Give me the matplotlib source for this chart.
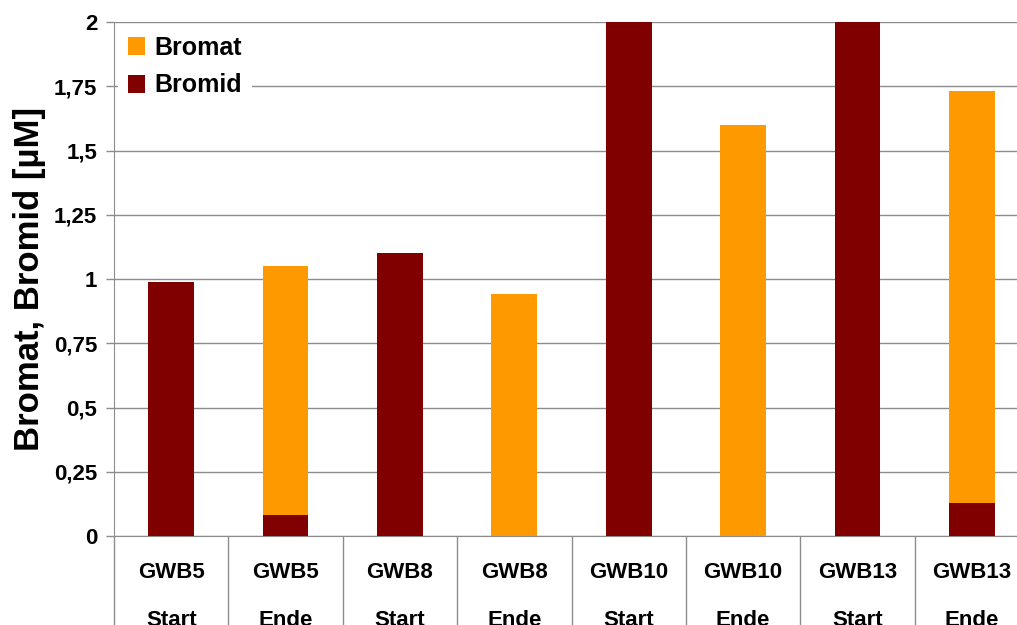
import matplotlib
matplotlib.use('Agg')
import matplotlib.pyplot as plt
import numpy as np

plt.rcParams['font.family'] = ['Liberation Sans', 'DejaVu Sans']
plt.rcParams['font.weight'] = 'bold'

# Messstellen und Werte [µM]
brunnen = ['GWB5', 'GWB5', 'GWB8', 'GWB8', 'GWB10', 'GWB10', 'GWB13', 'GWB13']
phase = ['Start', 'Ende', 'Start', 'Ende', 'Start', 'Ende', 'Start', 'Ende']
bromid = [0.99, 0.08, 1.10, 0.0, 2.4, 0.0, 2.3, 0.13]   # GWB10/13 Start laufen oben raus
bromat = [0.0, 0.97, 0.0, 0.94, 0.0, 1.60, 0.0, 1.60]
yticks = [0, 0.25, 0.5, 0.75, 1, 1.25, 1.5, 1.75, 2]
ytick_lbl = ['0', '0,25', '0,5', '0,75', '1', '1,25', '1,5', '1,75', '2']

c_bromat = '#FF9900'
c_bromid = '#800000'
grau = '#8c8c8c'

fig = plt.figure(figsize=(10.17, 6.25), dpi=100)
ax = fig.add_axes([0.1121, 0.1424, 0.8997, 0.8224])

x = np.arange(len(brunnen))
ax.bar(x, bromid, width=0.4, color=c_bromid, label='Bromid', zorder=3)
ax.bar(x, bromat, width=0.4, bottom=bromid, color=c_bromat, label='Bromat', zorder=3)

ax.set_xlim(-0.5, len(brunnen) - 0.5)
ax.set_ylim(0, 2)
ax.set_yticks(yticks)
ax.set_yticklabels(ytick_lbl, fontsize=16, fontweight='bold')
ax.yaxis.grid(True, color=grau, linewidth=1)
ax.set_axisbelow(True)

ax.set_xticks(x)
ax.set_xticklabels([b + '\n' + p for b, p in zip(brunnen, phase)],
                   fontsize=16, fontweight='bold', linespacing=2.65)
ax.set_xticks(np.arange(-0.5, len(brunnen)), minor=True)
ax.tick_params(axis='x', which='major', length=0, pad=19)
ax.tick_params(axis='x', which='minor', length=80, color=grau, width=1, direction='out')
ax.tick_params(axis='y', length=6, color=grau, width=1, pad=6)

for s in ['top', 'right']:
    ax.spines[s].set_visible(False)
ax.spines['left'].set_color(grau)
ax.spines['bottom'].set_color(grau)

ax.set_ylabel('Bromat, Bromid [µM]', fontsize=25, fontweight='bold', labelpad=6)

h, l = ax.get_legend_handles_labels()
leg = ax.legend(h[::-1], l[::-1], loc='upper left', bbox_to_anchor=(0.0, 1.0),
                frameon=True, framealpha=1, edgecolor='none',
                facecolor='white', handlelength=0.7, handleheight=0.7,
                handletextpad=0.35, labelspacing=0.55, borderaxespad=0.15,
                prop={'weight': 'bold', 'size': 18})
leg.set_zorder(5)

fig.savefig('out.png', dpi=100)
